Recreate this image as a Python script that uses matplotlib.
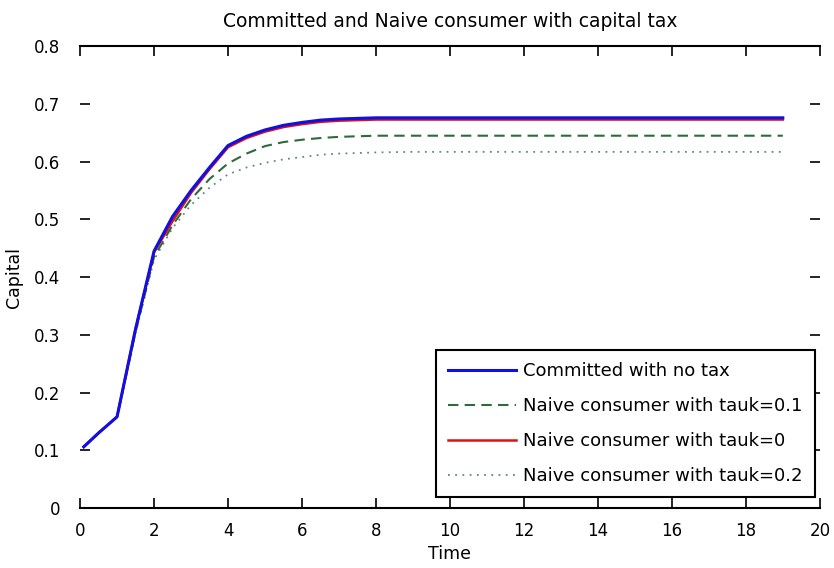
import matplotlib
matplotlib.use('Agg')
import matplotlib.pyplot as plt

# time grid and capital paths
t = [0.1, 0.5, 1.0, 1.5, 2.0, 2.5, 3.0, 3.5, 4.0, 4.5, 5.0, 5.5, 6.0, 6.5, 7.0,
     8, 9, 10, 11, 12, 13, 14, 15, 16, 17, 18, 19]
committed = [0.106, 0.13, 0.158, 0.31, 0.445, 0.505, 0.55, 0.59, 0.628, 0.644, 0.655,
             0.663, 0.668, 0.672, 0.674, 0.676, 0.676, 0.676, 0.676, 0.676, 0.676,
             0.676, 0.676, 0.676, 0.676, 0.676, 0.676]
naive_k0 = [0.106, 0.13, 0.158, 0.31, 0.443, 0.497, 0.546, 0.587, 0.625, 0.641, 0.652,
            0.66, 0.665, 0.669, 0.671, 0.673, 0.673, 0.673, 0.673, 0.673, 0.673,
            0.673, 0.673, 0.673, 0.673, 0.673, 0.673]
naive_k01 = [0.106, 0.13, 0.158, 0.305, 0.435, 0.49, 0.535, 0.57, 0.597, 0.614, 0.627,
             0.634, 0.638, 0.641, 0.643, 0.645, 0.645, 0.645, 0.645, 0.645, 0.645,
             0.645, 0.645, 0.645, 0.645, 0.645, 0.645]
naive_k02 = [0.106, 0.13, 0.158, 0.303, 0.43, 0.485, 0.525, 0.555, 0.578, 0.59, 0.598,
             0.604, 0.608, 0.612, 0.614, 0.616, 0.617, 0.617, 0.617, 0.617, 0.617,
             0.617, 0.617, 0.617, 0.617, 0.617, 0.617]

labels = ['Committed with no tax', 'Naive consumer with tauk=0.1',
          'Naive consumer with tauk=0', 'Naive consumer with tauk=0.2']
xticks = list(range(0, 21, 2))
yticks = [0, 0.1, 0.2, 0.3, 0.4, 0.5, 0.6, 0.7, 0.8]

plt.rcParams['font.family'] = ['DejaVu Sans']
fig = plt.figure(figsize=(8.34, 5.68), dpi=100)
ax = fig.add_axes([0.096, 0.1056, 0.887, 0.813])

l1, = ax.plot(t, committed, color='#1010e0', lw=2.2, zorder=4)
l2, = ax.plot(t, naive_k01, color='#2e6b3a', lw=1.5, ls=(0, (5, 3)), zorder=3)
l3, = ax.plot(t, naive_k0, color='#e01010', lw=1.8, zorder=3)
l4, = ax.plot(t, naive_k02, color='#5f8a80', lw=1.3, ls=(0, (1, 3)), zorder=2)

ax.set_xlim(0, 20)
ax.set_ylim(0, 0.8)
ax.set_xticks(xticks)
ax.set_yticks(yticks)
ax.set_yticklabels(['0', '0.1', '0.2', '0.3', '0.4', '0.5', '0.6', '0.7', '0.8'])
ax.tick_params(direction='in', length=7, width=1.2, top=True, right=True,
               labelsize=12)
ax.tick_params(axis='y', pad=14)
ax.tick_params(axis='x', pad=10)
for side in ['left', 'right']:
    ax.spines[side].set_visible(False)
for side in ['top', 'bottom']:
    ax.spines[side].set_linewidth(1.5)

ax.set_title('Committed and Naive consumer with capital tax', fontsize=13.5, pad=14)
ax.set_xlabel('Time', fontsize=12.5, labelpad=4)
ax.set_ylabel('Capital', fontsize=12.5, labelpad=8)

leg = ax.legend([l1, l2, l3, l4], labels, loc='upper right',
                bbox_to_anchor=(0.993, 0.342),
                fontsize=13, handlelength=3.8, labelspacing=0.95,
                borderpad=0.65, fancybox=False, framealpha=1,
                edgecolor='black', handletextpad=0.4, borderaxespad=0)
leg.get_frame().set_linewidth(1.5)

fig.savefig('out.png', dpi=100)
